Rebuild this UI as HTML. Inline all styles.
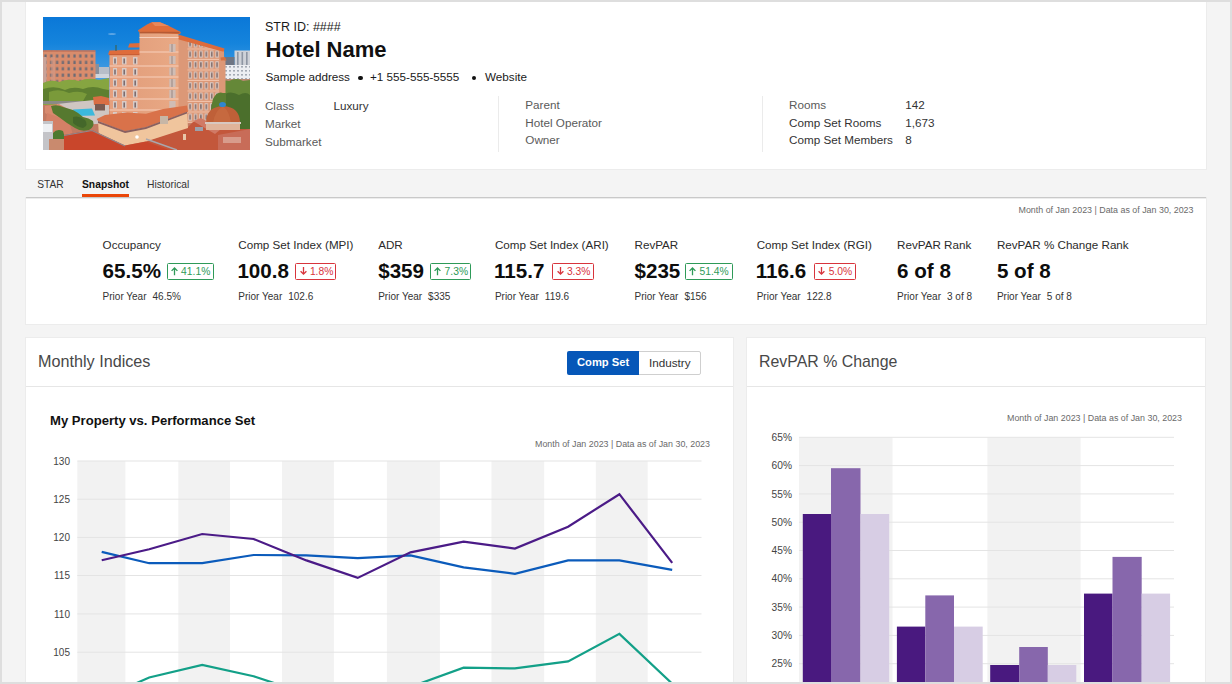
<!DOCTYPE html>
<html><head><meta charset="utf-8"><style>
*{margin:0;padding:0;box-sizing:border-box}
html,body{width:1232px;height:684px;overflow:hidden;background:#f4f4f4;font-family:"Liberation Sans", sans-serif}
#root{position:relative;width:1232px;height:684px;overflow:hidden;background:#f4f4f4}
.frame{position:absolute;left:0;top:0;width:1232px;height:684px;border:2px solid #dedede;pointer-events:none;z-index:50}
.card{position:absolute;background:#fff;box-shadow:0 0 0 1px #ececec}
.t{position:absolute;white-space:nowrap;z-index:5}
.abs{position:absolute}
.dot{position:absolute;width:4.3px;height:4.3px;border-radius:50%;background:#111;z-index:5}
.vsep{position:absolute;width:1px;background:#ebebeb}
.badge{position:absolute;height:17px;border:1px solid;border-radius:1.5px;font-size:10.3px;line-height:15px;padding-left:3.5px;white-space:nowrap;z-index:5}
.badge span{font-size:10.3px}
.tog{position:absolute;left:566.5px;top:350.6px;width:134.5px;height:24px;border:1px solid #cfcfcf;border-radius:2px;background:#fff;display:flex;overflow:hidden;z-index:5}
.tog .on{width:72px;background:#0657b8;color:#fff;font-weight:bold;font-size:11.2px;line-height:21px;padding-left:9px;margin:-1px 0 -1px -1px;height:24px;line-height:24px;border-radius:2px 0 0 2px}
.tog .off{flex:1;color:#333;font-size:11.7px;line-height:22px;padding-left:9px}
#photo{position:absolute;left:43px;top:17px;width:207px;height:133px;overflow:hidden}
</style></head>
<body><div id="root">
<div class="card" style="left:26px;top:2px;width:1180px;height:167px;"></div>
<div id="photo"><svg width="207" height="133" viewBox="0 0 207 133" style="display:block">
<defs>
<linearGradient id="sky" x1="0" y1="0" x2="0" y2="1"><stop offset="0" stop-color="#0a78d8"/><stop offset="0.2" stop-color="#1584dc"/><stop offset="0.4" stop-color="#3f9ae2"/><stop offset="0.6" stop-color="#62ace6"/></linearGradient>
<linearGradient id="twr" x1="0" y1="0" x2="1" y2="0"><stop offset="0" stop-color="#e4a17e"/><stop offset="1" stop-color="#e9a985"/></linearGradient>
<pattern id="winL" x="0" y="36" width="5.8" height="6.4" patternUnits="userSpaceOnUse"><rect width="5.8" height="6.4" fill="#d98c6c"/><rect x="1.4" y="1.4" width="2.2" height="3.2" fill="#6a6a74"/></pattern>
<pattern id="winR" x="144.5" y="22" width="5.4" height="10.5" patternUnits="userSpaceOnUse"><rect width="5.4" height="10.5" fill="#dc9877"/><rect x="1" y="1.2" width="3.2" height="7" fill="#ddd0cc"/><rect x="1.8" y="2.2" width="1.6" height="5" fill="#85706e"/><rect x="0" y="9.4" width="5.4" height="1.1" fill="#f1c2aa"/></pattern>
<pattern id="winW" x="181" y="48" width="4" height="4" patternUnits="userSpaceOnUse"><rect width="4" height="4" fill="#eceef2"/><rect x="1" y="1" width="2" height="1.6" fill="#a4aab4"/></pattern>
</defs>
<rect width="207" height="133" fill="url(#sky)"/>
<rect x="0" y="84" width="207" height="49" fill="#c27a62"/>
<ellipse cx="69" cy="17" rx="4" ry="0.8" fill="#9cc6ee" opacity="0.7"/>
<!-- far right buildings -->
<rect x="191.5" y="33.5" width="15.5" height="16" fill="#cfd2d8"/>
<rect x="194" y="35" width="1.6" height="13" fill="#8e96a3"/><rect x="198.5" y="35" width="1.6" height="13" fill="#8e96a3"/><rect x="203" y="35" width="1.6" height="13" fill="#8e96a3"/>
<rect x="181" y="40" width="10.5" height="9" fill="#6f7684"/>
<rect x="181" y="48" width="26" height="15" fill="url(#winW)"/>
<rect x="181" y="62" width="26" height="8" fill="#b98a72"/>
<!-- distant small buildings center-left -->
<rect x="52" y="47" width="4" height="12" fill="#8a8f9a"/>
<rect x="56" y="50" width="10" height="10" fill="#b7bec8"/>
<rect x="52" y="57" width="14" height="4" fill="#d0d5dc"/>
<!-- left brick building -->
<polygon points="0,34.5 3,33.5 52.5,34.5 52.5,70 0,70" fill="url(#winL)"/>
<rect x="0" y="33.2" width="52.5" height="1.6" fill="#c7755a"/>
<rect x="0" y="40" width="3.5" height="30" fill="#c9a298"/>
<rect x="8" y="40" width="4" height="30" fill="#cf9a88" opacity="0.6"/>
<!-- trees left -->
<path d="M0,66 Q8,62 16,65 Q26,61 36,64 Q46,60 56,63 L66,61 L66,86 L0,88 Z" fill="#86a541"/>
<path d="M0,72 Q12,68 22,73 Q30,69 40,72 Q50,68 60,72 L66,73 L66,84 L0,86 Z" fill="#5e7f30"/>
<path d="M6,75 Q16,71 26,76 Q36,73 44,77 L40,84 L6,86 Z" fill="#7a9a3a"/>
<rect x="0" y="84" width="62" height="3" fill="#8a8a86"/>
<!-- right trees -->
<path d="M172,70 Q178,62 186,64 Q194,60 200,64 L207,63 L207,112 L172,112 Z" fill="#658838"/>
<path d="M178,80 Q186,72 196,78 Q203,74 207,78 L207,112 L176,112 Z" fill="#4b6f2c"/>
<!-- main building right wing -->
<polygon points="135,20 181,33 182,104 135,107" fill="#dc9877"/>
<polygon points="144.5,24 176,33 176,104 144.5,106" fill="url(#winR)"/>
<polygon points="134,18.8 137,18 181.5,31.5 180.5,34.8 135,22.2" fill="#dd6b3b"/>
<polygon points="177.5,40.5 182,40 183.5,43.5 178,44" fill="#d8703f"/>
<rect x="178" y="43.5" width="4.5" height="60" fill="#dc9877"/>
<!-- left wing -->
<rect x="66.5" y="37" width="31" height="68" fill="#e6a07e"/>
<polygon points="65,37.5 66.5,33.5 97,32.5 98.5,37" fill="#df6c3b"/>
<rect x="66" y="37" width="32" height="1.2" fill="#c95e35"/>
<g fill="#d9cbc6">
<rect x="70" y="40" width="4" height="7.5"/><rect x="79" y="40" width="4.5" height="7.5"/><rect x="90" y="40" width="4.5" height="7.5"/>
<rect x="70" y="51" width="4" height="7.5"/><rect x="79" y="51" width="4.5" height="7.5"/><rect x="90" y="51" width="4.5" height="7.5"/>
<rect x="70" y="62" width="4" height="7.5"/><rect x="79" y="62" width="4.5" height="7.5"/><rect x="90" y="62" width="4.5" height="7.5"/>
<rect x="70" y="73" width="4" height="7.5"/><rect x="79" y="73" width="4.5" height="7.5"/><rect x="90" y="73" width="4.5" height="7.5"/>
<rect x="70" y="84" width="4" height="7.5"/><rect x="79" y="84" width="4.5" height="7.5"/><rect x="90" y="84" width="4.5" height="7.5"/>
<rect x="70" y="95" width="4" height="7.5"/><rect x="79" y="95" width="4.5" height="7.5"/><rect x="90" y="95" width="4.5" height="7.5"/>
</g>
<g fill="#7d6d70">
<rect x="71.2" y="41.5" width="1.6" height="5"/><rect x="80.4" y="41.5" width="1.6" height="5"/><rect x="91.4" y="41.5" width="1.6" height="5"/>
<rect x="71.2" y="52.5" width="1.6" height="5"/><rect x="80.4" y="52.5" width="1.6" height="5"/><rect x="91.4" y="52.5" width="1.6" height="5"/>
<rect x="71.2" y="63.5" width="1.6" height="5"/><rect x="80.4" y="63.5" width="1.6" height="5"/><rect x="91.4" y="63.5" width="1.6" height="5"/>
<rect x="71.2" y="74.5" width="1.6" height="5"/><rect x="80.4" y="74.5" width="1.6" height="5"/><rect x="91.4" y="74.5" width="1.6" height="5"/>
<rect x="71.2" y="85.5" width="1.6" height="5"/><rect x="80.4" y="85.5" width="1.6" height="5"/><rect x="91.4" y="85.5" width="1.6" height="5"/>
</g>
<polygon points="85,30.5 86.5,26.5 98,26 98,30.5" fill="#df6c3b"/>
<rect x="72.5" y="28" width="1" height="6" fill="#3f5a3e"/>
<!-- central tower -->
<rect x="96.5" y="14" width="39" height="92" fill="url(#twr)"/>
<polygon points="95,13.2 104,7.5 108.5,5.3 117,5.3 126,9 137.8,15 137.2,17.2 95.5,14.8" fill="#de6d3b"/><polygon points="108.5,5.3 117,5.3 126,9 112,9" fill="#e8885a"/>
<rect x="96.5" y="14.8" width="40" height="1.6" fill="#b65a34"/>
<g fill="#f7d0bc">
<rect x="96.5" y="20" width="39" height="1"/><rect x="96.5" y="34.5" width="39" height="1"/><rect x="66.5" y="48.5" width="69" height="1"/><rect x="66.5" y="59.5" width="69" height="1"/><rect x="66.5" y="70.5" width="69" height="1"/><rect x="66.5" y="81.5" width="69" height="1"/><rect x="66.5" y="92.5" width="69" height="1"/>
</g>
<g fill="#d0bdb5">
<rect x="126.3" y="27" width="6.3" height="8"/><rect x="126.3" y="39" width="6.3" height="8"/><rect x="126.3" y="50.5" width="6.3" height="8"/><rect x="126.3" y="62" width="6.3" height="8"/><rect x="126.3" y="73" width="6.3" height="8"/><rect x="126.3" y="84" width="6.3" height="7"/>
</g>
<g fill="#8b7a78">
<rect x="128.6" y="27" width="0.8" height="8"/><rect x="128.6" y="39" width="0.8" height="8"/><rect x="128.6" y="50.5" width="0.8" height="8"/><rect x="128.6" y="62" width="0.8" height="8"/><rect x="128.6" y="73" width="0.8" height="8"/>
</g>
<path d="M170,82 Q174,74 180,76 L183,76 L183,110 L168,110 Q166,96 170,82 Z" fill="#5b7d32"/>
<!-- pool deck and walls -->
<polygon points="14,87 60,82 66,84 66,106 40,108 14,98" fill="#cfc6c2"/>
<polygon points="30,92.5 49,91.5 52,98.5 32,99" fill="#3cb9dc"/>
<polygon points="2,89 16,87 32,96 30,106 8,100 2,96" fill="#d88a6e"/>
<polygon points="4,96 26,104 30,118 18,122 2,112" fill="#d48066"/>
<polygon points="50,80 58,79 66,81 66,88 51,88" fill="#d96e44"/>
<rect x="52" y="87" width="10" height="6.5" fill="#7a5a50"/>
<!-- mid trees -->
<path d="M8,89 Q14,87 20,90 L30,93 Q36,96 40,100 Q46,101 50,104 Q52,110 46,113 Q38,115 32,111 L24,106 Q16,100 10,96 Z" fill="#56792f"/><path d="M30,100 Q36,98 42,103 Q46,108 40,111 Q34,110 30,106 Z" fill="#44672a"/>
<path d="M10,116 Q14,111 20,114 Q23,122 21,129 L10,129 Z" fill="#4d7a30"/>
<rect x="0" y="104" width="10" height="29" fill="#c4c4c8"/>
<rect x="0" y="107" width="9" height="8" fill="#eef0f3"/>
<!-- terrace right bottom -->
<polygon points="103,124.4 145,110 150,105 163,105 163,112 207,112 207,133 103,133" fill="#c3573b"/>
<polygon points="150,104 158,101 178,112 172,117" fill="#d07a66"/>
<polygon points="175,118 207,112 207,133 175,133" fill="#c86c58"/>
<rect x="180" y="120" width="18" height="6" fill="#d89c8c"/>
<rect x="152" y="110" width="8" height="4" fill="#9ca0aa"/>
<rect x="140" y="117" width="3" height="6" fill="#e8c6a8"/>
<!-- lower beige building -->
<polygon points="55,104 82,114 103,110 144,94.7 145,111 103,124.4 82,128.5 56,120" fill="#f0c59d"/>
<polygon points="53.7,102 62,98 83,95.5 103,96.8 120,92 144,88.5 145,94.7 103,110 82,114 55,104" fill="#d9724a"/>
<polygon points="55,104 82,114 103,110 144,94.7 144,96.5 103,112 82,116 55,106" fill="#8a6060"/>
<rect x="117" y="99" width="8" height="8" fill="#c7b6a6"/>
<circle cx="94" cy="120" r="1.8" fill="#ffffff"/>
<!-- dome -->
<rect x="163" y="104" width="34" height="9" fill="#e0b49a"/>
<path d="M163,106 Q163,90 180,89 Q197,90 197,106 Z" fill="#bf6038"/>
<path d="M170,106 Q172,93 180,89.5 Q186,93 188,106 Z" fill="#c96d43" opacity="0.7"/>
<rect x="162" y="105" width="36" height="2" fill="#d8c8c0"/>
<ellipse cx="179.5" cy="87.5" rx="3.4" ry="2.6" fill="#2f86d0"/>
<!-- bottom-left red roof -->
<polygon points="21,118 49,113 82,128.5 103,124.4 126,133 21,133" fill="#c9462b"/>
<polyline points="21,118.5 49,113.5 82,129" fill="none" stroke="#8d8a92" stroke-width="1.2"/>
<polyline points="103,122 134,133" fill="none" stroke="#a9a7ad" stroke-width="1.5"/>
<rect x="6" y="122" width="15" height="11" fill="#c98a6e"/>
</svg>
</div>
<div class="t" style="left:265px;top:19.07px;font-size:12.5px;line-height:16px;color:#1a1a1a;font-weight:normal;">STR ID: ####</div>
<div class="t" style="left:265.5px;top:35.88px;font-size:22px;line-height:28px;color:#111;font-weight:bold;">Hotel Name</div>
<div class="t" style="left:265.5px;top:69.45px;font-size:11.7px;line-height:15px;color:#1a1a1a;font-weight:normal;">Sample address</div>
<div class="dot" style="left:358.45px;top:75.55px"></div>
<div class="t" style="left:370px;top:69.45px;font-size:11.7px;line-height:15px;color:#1a1a1a;font-weight:normal;">+1 555-555-5555</div>
<div class="dot" style="left:471.6px;top:75.55px"></div>
<div class="t" style="left:485px;top:69.45px;font-size:11.7px;line-height:15px;color:#1a1a1a;font-weight:normal;">Website</div>
<div class="t" style="left:264.9px;top:97.75px;font-size:11.7px;line-height:15px;color:#5a5a5a;font-weight:normal;">Class</div>
<div class="t" style="left:264.9px;top:115.70px;font-size:11.7px;line-height:15px;color:#5a5a5a;font-weight:normal;">Market</div>
<div class="t" style="left:264.9px;top:133.65px;font-size:11.7px;line-height:15px;color:#5a5a5a;font-weight:normal;">Submarket</div>
<div class="t" style="left:333.4px;top:97.75px;font-size:11.7px;line-height:15px;color:#333;font-weight:normal;">Luxury</div>
<div class="vsep" style="left:498px;top:96px;height:56px"></div>
<div class="t" style="left:525.3px;top:97.15px;font-size:11.7px;line-height:15px;color:#5a5a5a;font-weight:normal;">Parent</div>
<div class="t" style="left:525.3px;top:114.65px;font-size:11.7px;line-height:15px;color:#5a5a5a;font-weight:normal;">Hotel Operator</div>
<div class="t" style="left:525.3px;top:132.15px;font-size:11.7px;line-height:15px;color:#5a5a5a;font-weight:normal;">Owner</div>
<div class="vsep" style="left:762px;top:96px;height:56px"></div>
<div class="t" style="left:789px;top:97.15px;font-size:11.7px;line-height:15px;color:#5a5a5a;font-weight:normal;">Rooms</div>
<div class="t" style="left:789px;top:114.65px;font-size:11.7px;line-height:15px;color:#333;font-weight:normal;">Comp Set Rooms</div>
<div class="t" style="left:789px;top:132.15px;font-size:11.7px;line-height:15px;color:#333;font-weight:normal;">Comp Set Members</div>
<div class="t" style="left:905.2px;top:97.15px;font-size:11.7px;line-height:15px;color:#333;font-weight:normal;">142</div>
<div class="t" style="left:905.2px;top:114.65px;font-size:11.7px;line-height:15px;color:#333;font-weight:normal;">1,673</div>
<div class="t" style="left:905.2px;top:132.15px;font-size:11.7px;line-height:15px;color:#333;font-weight:normal;">8</div>
<div class="t" style="left:37.3px;top:178.17px;font-size:10.2px;line-height:13px;color:#333;font-weight:normal;">STAR</div>
<div class="t" style="left:82px;top:178.13px;font-size:10.3px;line-height:13px;color:#111;font-weight:bold;">Snapshot</div>
<div class="t" style="left:147px;top:178.13px;font-size:10.3px;line-height:13px;color:#333;font-weight:normal;">Historical</div>
<div style="position:absolute;left:82px;top:194px;width:47px;height:3px;background:#ea4608;z-index:3"></div>
<div class="card" style="left:26px;top:198px;width:1180px;height:126px;"></div>
<div style="position:absolute;left:26px;top:197px;width:1180px;height:1px;background:#c9c9c9;z-index:2"></div>
<div style="position:absolute;left:26px;top:198px;width:1180px;height:1px;background:#ececec;z-index:2"></div>
<div class="t" style="right:38.50px;top:205.22px;font-size:8.9px;line-height:11px;color:#6a6a6a;font-weight:normal;text-align:right;white-space:nowrap;">Month of Jan 2023 | Data as of Jan 30, 2023</div>
<div class="t" style="left:102.6px;top:237.36px;font-size:11.65px;line-height:15px;color:#2b2b2b;font-weight:normal;">Occupancy</div>
<div class="t" style="left:102.6px;top:258.26px;font-size:20.6px;line-height:26px;color:#0d0d0d;font-weight:bold;">65.5%</div>
<div class="t" style="left:102.6px;top:291.34px;font-size:10px;line-height:12px;color:#333;font-weight:normal;white-space:nowrap;">Prior Year<span style="margin-left:6px">46.5%</span></div>
<div class="badge" style="left:166.6px;top:263px;width:47.2px;border-color:#2e9a58;"></div>
<svg class="abs" style="left:170.8px;top:266.8px;z-index:6" width="7" height="9" viewBox="0 0 7 9"><path d="M3.5,8.2 V1 M0.6,3.9 L3.5,1 L6.4,3.9" fill="none" stroke="#2e9a58" stroke-width="1.3"/></svg>
<div class="t" style="left:181.1px;top:264.83px;font-size:10.3px;line-height:13px;color:#2e9a58;font-weight:normal;">41.1%</div>
<div class="t" style="left:238.3px;top:237.36px;font-size:11.65px;line-height:15px;color:#2b2b2b;font-weight:normal;">Comp Set Index (MPI)</div>
<div class="t" style="left:237.4px;top:258.26px;font-size:20.6px;line-height:26px;color:#0d0d0d;font-weight:bold;">100.8</div>
<div class="t" style="left:238.3px;top:291.34px;font-size:10px;line-height:12px;color:#333;font-weight:normal;white-space:nowrap;">Prior Year<span style="margin-left:6px">102.6</span></div>
<div class="badge" style="left:295.4px;top:263px;width:40.8px;border-color:#d8343c;"></div>
<svg class="abs" style="left:299.6px;top:266.8px;z-index:6" width="7" height="9" viewBox="0 0 7 9"><path d="M3.5,0 V7.2 M0.6,4.3 L3.5,7.2 L6.4,4.3" fill="none" stroke="#d8343c" stroke-width="1.3"/></svg>
<div class="t" style="left:309.9px;top:264.83px;font-size:10.3px;line-height:13px;color:#d8343c;font-weight:normal;">1.8%</div>
<div class="t" style="left:378.2px;top:237.36px;font-size:11.65px;line-height:15px;color:#2b2b2b;font-weight:normal;">ADR</div>
<div class="t" style="left:378.2px;top:258.26px;font-size:20.6px;line-height:26px;color:#0d0d0d;font-weight:bold;">$359</div>
<div class="t" style="left:378.2px;top:291.34px;font-size:10px;line-height:12px;color:#333;font-weight:normal;white-space:nowrap;">Prior Year<span style="margin-left:6px">$335</span></div>
<div class="badge" style="left:430.1px;top:263px;width:40.6px;border-color:#2e9a58;"></div>
<svg class="abs" style="left:434.3px;top:266.8px;z-index:6" width="7" height="9" viewBox="0 0 7 9"><path d="M3.5,8.2 V1 M0.6,3.9 L3.5,1 L6.4,3.9" fill="none" stroke="#2e9a58" stroke-width="1.3"/></svg>
<div class="t" style="left:444.6px;top:264.83px;font-size:10.3px;line-height:13px;color:#2e9a58;font-weight:normal;">7.3%</div>
<div class="t" style="left:494.9px;top:237.36px;font-size:11.65px;line-height:15px;color:#2b2b2b;font-weight:normal;">Comp Set Index (ARI)</div>
<div class="t" style="left:494.0px;top:258.26px;font-size:20.6px;line-height:26px;color:#0d0d0d;font-weight:bold;">115.7</div>
<div class="t" style="left:494.9px;top:291.34px;font-size:10px;line-height:12px;color:#333;font-weight:normal;white-space:nowrap;">Prior Year<span style="margin-left:6px">119.6</span></div>
<div class="badge" style="left:552.4px;top:263px;width:41.4px;border-color:#d8343c;"></div>
<svg class="abs" style="left:556.6px;top:266.8px;z-index:6" width="7" height="9" viewBox="0 0 7 9"><path d="M3.5,0 V7.2 M0.6,4.3 L3.5,7.2 L6.4,4.3" fill="none" stroke="#d8343c" stroke-width="1.3"/></svg>
<div class="t" style="left:566.9px;top:264.83px;font-size:10.3px;line-height:13px;color:#d8343c;font-weight:normal;">3.3%</div>
<div class="t" style="left:634.5px;top:237.36px;font-size:11.65px;line-height:15px;color:#2b2b2b;font-weight:normal;">RevPAR</div>
<div class="t" style="left:634.5px;top:258.26px;font-size:20.6px;line-height:26px;color:#0d0d0d;font-weight:bold;">$235</div>
<div class="t" style="left:634.5px;top:291.34px;font-size:10px;line-height:12px;color:#333;font-weight:normal;white-space:nowrap;">Prior Year<span style="margin-left:6px">$156</span></div>
<div class="badge" style="left:685px;top:263px;width:47.8px;border-color:#2e9a58;"></div>
<svg class="abs" style="left:689.2px;top:266.8px;z-index:6" width="7" height="9" viewBox="0 0 7 9"><path d="M3.5,8.2 V1 M0.6,3.9 L3.5,1 L6.4,3.9" fill="none" stroke="#2e9a58" stroke-width="1.3"/></svg>
<div class="t" style="left:699.5px;top:264.83px;font-size:10.3px;line-height:13px;color:#2e9a58;font-weight:normal;">51.4%</div>
<div class="t" style="left:756.7px;top:237.36px;font-size:11.65px;line-height:15px;color:#2b2b2b;font-weight:normal;">Comp Set Index (RGI)</div>
<div class="t" style="left:755.8000000000001px;top:258.26px;font-size:20.6px;line-height:26px;color:#0d0d0d;font-weight:bold;">116.6</div>
<div class="t" style="left:756.7px;top:291.34px;font-size:10px;line-height:12px;color:#333;font-weight:normal;white-space:nowrap;">Prior Year<span style="margin-left:6px">122.8</span></div>
<div class="badge" style="left:814.2px;top:263px;width:41.4px;border-color:#d8343c;"></div>
<svg class="abs" style="left:818.4px;top:266.8px;z-index:6" width="7" height="9" viewBox="0 0 7 9"><path d="M3.5,0 V7.2 M0.6,4.3 L3.5,7.2 L6.4,4.3" fill="none" stroke="#d8343c" stroke-width="1.3"/></svg>
<div class="t" style="left:828.7px;top:264.83px;font-size:10.3px;line-height:13px;color:#d8343c;font-weight:normal;">5.0%</div>
<div class="t" style="left:897.1px;top:237.36px;font-size:11.65px;line-height:15px;color:#2b2b2b;font-weight:normal;">RevPAR Rank</div>
<div class="t" style="left:897.1px;top:258.26px;font-size:20.6px;line-height:26px;color:#0d0d0d;font-weight:bold;">6 of 8</div>
<div class="t" style="left:897.1px;top:291.34px;font-size:10px;line-height:12px;color:#333;font-weight:normal;white-space:nowrap;">Prior Year<span style="margin-left:6px">3 of 8</span></div>
<div class="t" style="left:996.9px;top:237.36px;font-size:11.65px;line-height:15px;color:#2b2b2b;font-weight:normal;">RevPAR % Change Rank</div>
<div class="t" style="left:996.9px;top:258.26px;font-size:20.6px;line-height:26px;color:#0d0d0d;font-weight:bold;">5 of 8</div>
<div class="t" style="left:996.9px;top:291.34px;font-size:10px;line-height:12px;color:#333;font-weight:normal;white-space:nowrap;">Prior Year<span style="margin-left:6px">5 of 8</span></div>
<div class="card" style="left:26px;top:338px;width:707px;height:360px;"></div>
<div class="t" style="left:38px;top:351.39px;font-size:16.2px;line-height:20px;color:#484848;font-weight:normal;">Monthly Indices</div>
<div style="position:absolute;left:26px;top:386px;width:707px;height:1px;background:#e6e6e6"></div>
<div style="position:absolute;left:638px;top:351px;width:63px;height:24px;border:1px solid #cfcfcf;border-radius:0 2px 2px 0;background:#fff;z-index:4"></div>
<div style="position:absolute;left:567px;top:351px;width:72px;height:24px;background:#0657b8;border-radius:2px 0 0 2px;z-index:4"></div>
<div class="t" style="left:577px;top:355.42px;font-size:11.2px;line-height:14px;color:#fff;font-weight:bold;">Comp Set</div>
<div class="t" style="left:649px;top:354.75px;font-size:11.7px;line-height:15px;color:#333;font-weight:normal;">Industry</div>
<div class="t" style="left:50px;top:413.16px;font-size:13.1px;line-height:16px;color:#111;font-weight:bold;">My Property vs. Performance Set</div>
<div class="t" style="right:522.00px;top:438.82px;font-size:8.9px;line-height:11px;color:#6a6a6a;font-weight:normal;white-space:nowrap;">Month of Jan 2023 | Data as of Jan 30, 2023</div>
<svg class="abs" width="1232" height="684" viewBox="0 0 1232 684" style="left:0;top:0"><defs><clipPath id="cl1"><rect x="26" y="338" width="707" height="344"/></clipPath></defs><g clip-path="url(#cl1)" font-family="Liberation Sans, sans-serif"><rect x="77.3" y="461" width="48.1" height="230" fill="#f2f2f2"/><rect x="178.3" y="461" width="51.7" height="230" fill="#f2f2f2"/><rect x="282" y="461" width="51.9" height="230" fill="#f2f2f2"/><rect x="386.9" y="461" width="53.0" height="230" fill="#f2f2f2"/><rect x="491.5" y="461" width="52.7" height="230" fill="#f2f2f2"/><rect x="595.8" y="461" width="51.9" height="230" fill="#f2f2f2"/><rect x="77.3" y="460.5" width="624.2" height="1" fill="#e4e4e4"/><text x="70" y="464.6" text-anchor="end" font-size="10" fill="#444">130</text><rect x="77.3" y="498.7" width="624.2" height="1" fill="#e4e4e4"/><text x="70" y="502.8" text-anchor="end" font-size="10" fill="#444">125</text><rect x="77.3" y="536.9" width="624.2" height="1" fill="#e4e4e4"/><text x="70" y="541.0" text-anchor="end" font-size="10" fill="#444">120</text><rect x="77.3" y="575.0" width="624.2" height="1" fill="#e4e4e4"/><text x="70" y="579.1" text-anchor="end" font-size="10" fill="#444">115</text><rect x="77.3" y="613.4" width="624.2" height="1" fill="#e4e4e4"/><text x="70" y="617.5" text-anchor="end" font-size="10" fill="#444">110</text><rect x="77.3" y="651.7" width="624.2" height="1" fill="#e4e4e4"/><text x="70" y="655.8" text-anchor="end" font-size="10" fill="#444">105</text><polyline points="101.7,698.4 149.2,677.5 202.2,664.9 253.6,676.2 306.4,693.8 357.7,700.0 410.5,686.9 463.6,667.7 514.9,668.4 568.1,661.4 619.4,633.9 672.2,683.7" fill="none" stroke="#13a088" stroke-width="2.2" stroke-linejoin="miter"/><polyline points="101.7,551.9 149.2,563.2 202.2,563.2 253.6,555.0 306.4,555.4 357.7,558.2 410.5,555.4 463.6,567.3 514.9,573.8 568.1,560.4 619.4,560.4 672.2,569.9" fill="none" stroke="#0b5bbb" stroke-width="2.2" stroke-linejoin="miter"/><polyline points="101.7,560.3 149.2,549.2 202.2,534.0 253.6,539.0 306.4,560.4 357.7,577.9 410.5,552.3 463.6,541.6 514.9,548.6 568.1,526.7 619.4,494.2 672.2,562.8" fill="none" stroke="#4b1b87" stroke-width="2.2" stroke-linejoin="miter"/></g></svg>
<div class="card" style="left:747px;top:338px;width:458px;height:360px;"></div>
<div class="t" style="left:759px;top:351.99px;font-size:15.9px;line-height:20px;color:#484848;font-weight:normal;">RevPAR % Change</div>
<div style="position:absolute;left:747px;top:386px;width:458px;height:1px;background:#e6e6e6"></div>
<div class="t" style="right:50.00px;top:412.82px;font-size:8.9px;line-height:11px;color:#6a6a6a;font-weight:normal;white-space:nowrap;">Month of Jan 2023 | Data as of Jan 30, 2023</div>
<svg class="abs" width="1232" height="684" viewBox="0 0 1232 684" style="left:0;top:0"><defs><clipPath id="cl2"><rect x="747" y="338" width="458" height="344"/></clipPath></defs><g clip-path="url(#cl2)" font-family="Liberation Sans, sans-serif"><rect x="799" y="437.3" width="93.5" height="260" fill="#f2f2f2"/><rect x="987.4" y="437.3" width="93.2" height="260" fill="#f2f2f2"/><rect x="799" y="436.8" width="375" height="1" fill="#e4e4e4"/><text x="792" y="440.9" text-anchor="end" font-size="10.2" fill="#444">65%</text><rect x="799" y="465.1" width="375" height="1" fill="#e4e4e4"/><text x="792" y="469.2" text-anchor="end" font-size="10.2" fill="#444">60%</text><rect x="799" y="493.4" width="375" height="1" fill="#e4e4e4"/><text x="792" y="497.5" text-anchor="end" font-size="10.2" fill="#444">55%</text><rect x="799" y="521.7" width="375" height="1" fill="#e4e4e4"/><text x="792" y="525.8" text-anchor="end" font-size="10.2" fill="#444">50%</text><rect x="799" y="550.0" width="375" height="1" fill="#e4e4e4"/><text x="792" y="554.1" text-anchor="end" font-size="10.2" fill="#444">45%</text><rect x="799" y="578.3" width="375" height="1" fill="#e4e4e4"/><text x="792" y="582.4" text-anchor="end" font-size="10.2" fill="#444">40%</text><rect x="799" y="606.6" width="375" height="1" fill="#e4e4e4"/><text x="792" y="610.7" text-anchor="end" font-size="10.2" fill="#444">35%</text><rect x="799" y="634.9" width="375" height="1" fill="#e4e4e4"/><text x="792" y="639.0" text-anchor="end" font-size="10.2" fill="#444">30%</text><rect x="799" y="663.2" width="375" height="1" fill="#e4e4e4"/><text x="792" y="667.3" text-anchor="end" font-size="10.2" fill="#444">25%</text><rect x="802.8" y="514" width="28.2" height="186.0" fill="#49197f"/><rect x="831" y="468.2" width="29.5" height="231.8" fill="#8767ac"/><rect x="860.5" y="514" width="28.7" height="186.0" fill="#d7cde4"/><rect x="896.9" y="626.6" width="28.4" height="73.4" fill="#49197f"/><rect x="925.3" y="595.4" width="28.7" height="104.6" fill="#8767ac"/><rect x="954" y="626.6" width="28.7" height="73.4" fill="#d7cde4"/><rect x="990.2" y="665" width="29.0" height="35.0" fill="#49197f"/><rect x="1019.2" y="647" width="28.6" height="53.0" fill="#8767ac"/><rect x="1047.8" y="665" width="28.5" height="35.0" fill="#d7cde4"/><rect x="1084" y="593.6" width="28.5" height="106.4" fill="#49197f"/><rect x="1112.5" y="556.9" width="29.2" height="143.1" fill="#8767ac"/><rect x="1141.7" y="593.6" width="28.4" height="106.4" fill="#d7cde4"/></g></svg>
<div class="frame"></div>
</div></body></html>
